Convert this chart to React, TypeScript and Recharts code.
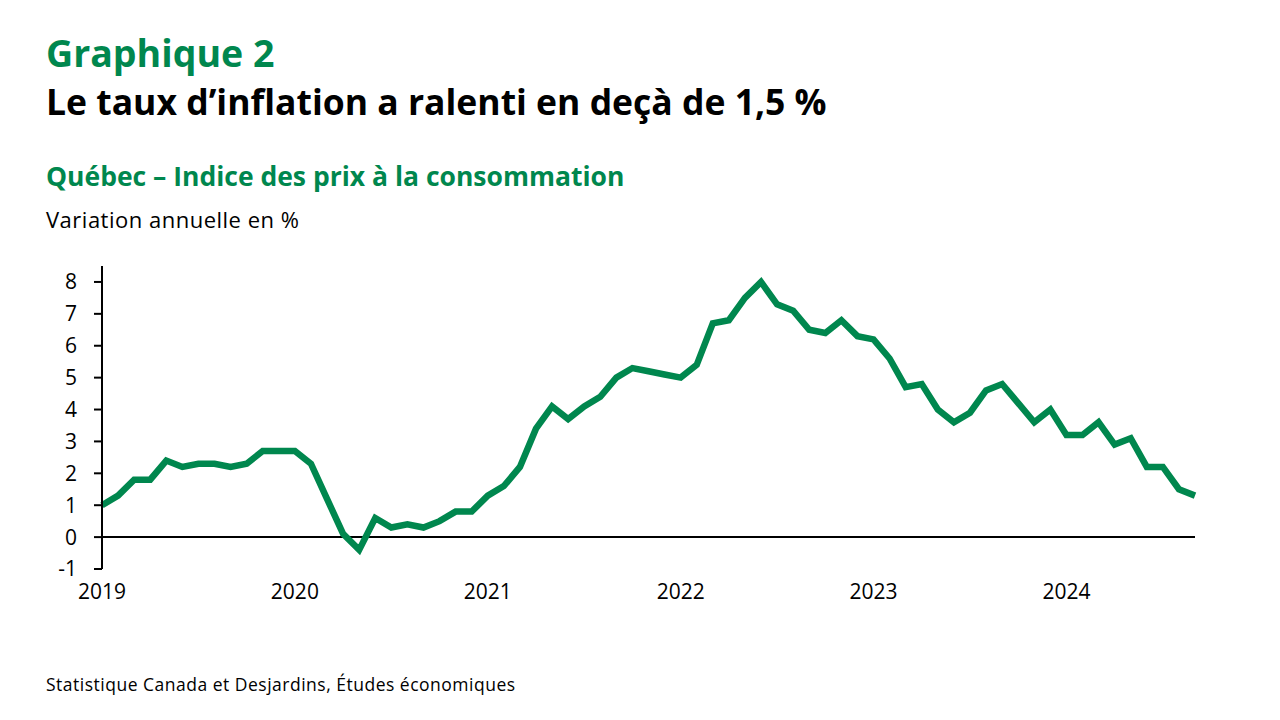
import { LineChart, Line, XAxis, YAxis, ReferenceLine } from "recharts";

const GREEN = "#00874e";
const FONT = "'Open Sans', Lato, sans-serif";

// Jan 2019 .. Sep 2024, monthly
const MONTHS = [
  "2019-01", "2019-02", "2019-03", "2019-04", "2019-05", "2019-06", "2019-07", "2019-08", "2019-09", "2019-10", "2019-11", "2019-12",
  "2020-01", "2020-02", "2020-03", "2020-04", "2020-05", "2020-06", "2020-07", "2020-08", "2020-09", "2020-10", "2020-11", "2020-12",
  "2021-01", "2021-02", "2021-03", "2021-04", "2021-05", "2021-06", "2021-07", "2021-08", "2021-09", "2021-10", "2021-11", "2021-12",
  "2022-01", "2022-02", "2022-03", "2022-04", "2022-05", "2022-06", "2022-07", "2022-08", "2022-09", "2022-10", "2022-11", "2022-12",
  "2023-01", "2023-02", "2023-03", "2023-04", "2023-05", "2023-06", "2023-07", "2023-08", "2023-09", "2023-10", "2023-11", "2023-12",
  "2024-01", "2024-02", "2024-03", "2024-04", "2024-05", "2024-06", "2024-07", "2024-08", "2024-09",
];

const CPI = [
  1.0, 1.3, 1.8, 1.8, 2.4, 2.2, 2.3, 2.3, 2.2, 2.3, 2.7, 2.7,
  2.7, 2.3, 1.2, 0.1, -0.4, 0.6, 0.3, 0.4, 0.3, 0.5, 0.8, 0.8,
  1.3, 1.6, 2.2, 3.4, 4.1, 3.7, 4.1, 4.4, 5.0, 5.3, 5.2, 5.1,
  5.0, 5.4, 6.7, 6.8, 7.5, 8.0, 7.3, 7.1, 6.5, 6.4, 6.8, 6.3,
  6.2, 5.6, 4.7, 4.8, 4.0, 3.6, 3.9, 4.6, 4.8, 4.2, 3.6, 4.0,
  3.2, 3.2, 3.6, 2.9, 3.1, 2.2, 2.2, 1.5, 1.3,
];

const YEAR_TICKS = [0, 12, 24, 36, 48, 60];
const YEAR_LABELS = ["2019", "2020", "2021", "2022", "2023", "2024"];
const Y_TICKS = [-1, 0, 1, 2, 3, 4, 5, 6, 7, 8];

const data = MONTHS.map((m, i) => ({ i, month: m, cpi: CPI[i] }));

export default function App() {
  return (
    <div style={{ position: "absolute", left: 0, top: 0, width: 1280, height: 720, background: "#fff", fontFamily: FONT, overflow: "hidden" }}>
      <div style={{ position: "absolute", left: 46, top: 34, fontSize: 37.5, fontWeight: 700, color: GREEN, lineHeight: 1 }}>
        Graphique 2
      </div>
      <div style={{ position: "absolute", left: 46, top: 84, fontSize: 35.5, fontWeight: 700, color: "#000", lineHeight: 1 }}>
        Le taux d’inflation a ralenti en deçà de 1,5 %
      </div>
      <div style={{ position: "absolute", left: 46, top: 163, fontSize: 26.5, fontWeight: 700, color: GREEN, lineHeight: 1 }}>
        Québec – Indice des prix à la consommation
      </div>
      <div style={{ position: "absolute", left: 46, top: 208, fontSize: 22, color: "#000", lineHeight: 1, letterSpacing: 0.5 }}>
        Variation annuelle en %
      </div>
      <div style={{ position: "absolute", left: 46, top: 676, fontSize: 17.5, color: "#000", lineHeight: 1, letterSpacing: 0.5 }}>
        Statistique Canada et Desjardins, Études économiques
      </div>

      <div style={{ position: "absolute", left: 0, top: 0 }}>
        <LineChart width={1280} height={720} data={data} margin={{ top: 266, right: 85, bottom: 111, left: 42 }}>
          <XAxis
            dataKey="i"
            type="number"
            domain={[0, 68]}
            ticks={YEAR_TICKS}
            interval={0}
            tickFormatter={(v) => YEAR_LABELS[YEAR_TICKS.indexOf(v)] ?? ""}
            axisLine={false}
            tickLine={false}
            tickSize={0}
            tickMargin={15}
            height={40}
            tick={{ fontSize: 21, fill: "#000", fontFamily: FONT }}
          />
          <YAxis
            domain={[-1, 8.5]}
            ticks={Y_TICKS}
            interval={0}
            width={60}
            axisLine={{ stroke: "#000", strokeWidth: 2 }}
            tickLine={{ stroke: "#000", strokeWidth: 2 }}
            tickSize={8}
            tickMargin={17}
            tick={{ fontSize: 21, fill: "#000", fontFamily: FONT }}
          />
          <ReferenceLine y={0} stroke="#000" strokeWidth={2} />
          <Line type="linear" dataKey="cpi" stroke={GREEN} strokeWidth={6.5} dot={false} isAnimationActive={false} />
        </LineChart>
      </div>
    </div>
  );
}
